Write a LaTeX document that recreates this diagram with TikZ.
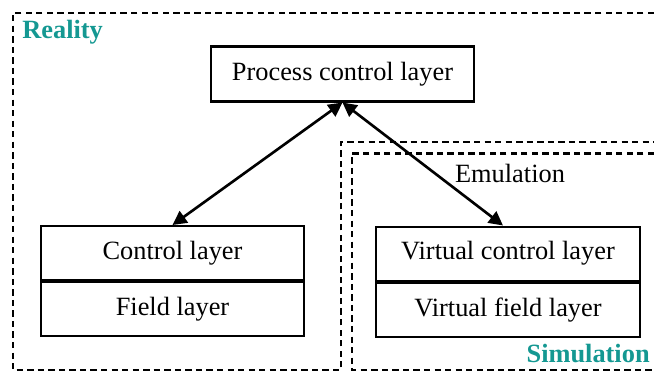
\documentclass[tikz,border=0pt]{standalone}
\usepackage{fontspec}
\setmainfont{Liberation Serif}
\usepackage{tikz}
\usetikzlibrary{calc,arrows.meta,positioning}
\definecolor{realTeal}{RGB}{20,152,146}
\definecolor{layerBlack}{RGB}{0,0,0}

\tikzset{
    layerbox/.style={draw=layerBlack, line width=1.2pt, minimum width=5.27cm, minimum height=1.08cm,
        inner sep=0pt, font=\fontsize{15}{18}\selectfont},
    zoneline/.style={line width=1.4pt, dash pattern=on 3.6pt off 2.4pt},
    zonelabel/.style={text=realTeal, font=\fontsize{15}{18}\selectfont\bfseries, inner sep=0pt},
    linkarrow/.style={line width=1.5pt, {Triangle[length=8pt,width=8pt]}-{Triangle[length=8pt,width=8pt]}}
}

\begin{document}
\begin{tikzpicture}
    \useasboundingbox (0,0) rectangle (13.08,7.44);
    \begin{scope}
        \draw[zoneline] (13.08,7.18) -- (0.26,7.18) -- (0.26,0.04) -- (6.82,0.04) -- (6.82,4.60) -- (13.08,4.60);
        \draw[zoneline] (13.08,4.37) -- (7.04,4.37) -- (7.04,0.04) -- (13.08,0.04);
        \node[zonelabel, anchor=west] (reality) at (0.44,6.80) {Reality};
        \node[zonelabel, anchor=base east] (simulation) at (13.0,0.20) {Simulation};
    \end{scope}
    \node[layerbox, minimum height=1.1cm] (process) at (6.85,5.96) {Process control layer};
    \node[layerbox, anchor=north] (ctrl) at (3.45,2.94) {Control layer};
    \node[layerbox, anchor=north] (field) at (ctrl.south) {Field layer};
    \node[layerbox, anchor=north] (vctrl) at (10.16,2.93) {Virtual control layer};
    \node[layerbox, anchor=north] (vfield) at (vctrl.south) {Virtual field layer};
    \node[font=\fontsize{15}{18}\selectfont] (emulation) at (10.2,3.97) {Emulation};
    \draw[linkarrow] (process.south) -- (ctrl.north);
    \draw[linkarrow] (process.south) -- ([xshift=-0.1cm]vctrl.north);
\end{tikzpicture}
\end{document}
